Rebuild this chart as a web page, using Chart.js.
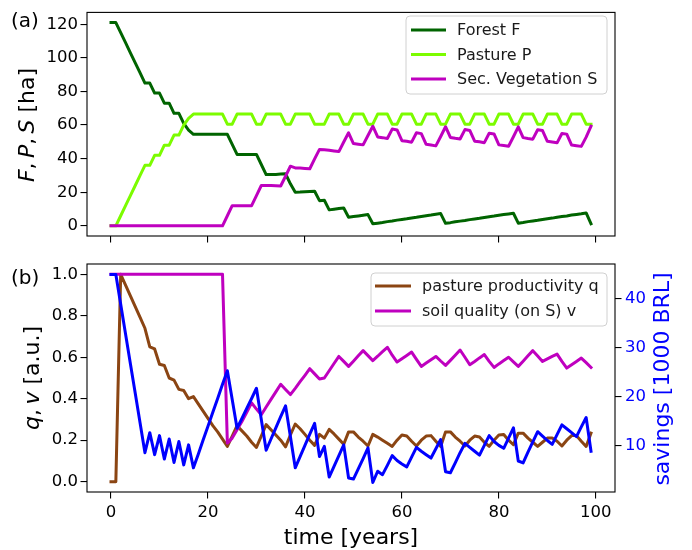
<!DOCTYPE html>
<html>
<head>
<meta charset="utf-8">
<script src="https://cdn.jsdelivr.net/npm/chart.js@4.4.0/dist/chart.umd.min.js"></script>
<style>
  html, body { margin: 0; padding: 0; background: #fff; }
  #wrap { position: relative; width: 692px; height: 550px; }
  canvas { position: absolute; left: 0; }
  #top { top: 0; }
  #bottom { top: 250px; }
</style>
</head>
<body>
<div id="wrap">
  <canvas id="top" width="692" height="250"></canvas>
  <canvas id="bottom" width="692" height="300"></canvas>
</div>
<script>
const years = [
  0, 1, 2, 3, 4, 5, 6, 7, 8, 9, 10, 11, 12, 13, 14, 15, 16, 17, 18, 19,
  20, 21, 22, 23, 24, 25, 26, 27, 28, 29, 30, 31, 32, 33, 34, 35, 36, 37, 38, 39,
  40, 41, 42, 43, 44, 45, 46, 47, 48, 49, 50, 51, 52, 53, 54, 55, 56, 57, 58, 59,
  60, 61, 62, 63, 64, 65, 66, 67, 68, 69, 70, 71, 72, 73, 74, 75, 76, 77, 78, 79,
  80, 81, 82, 83, 84, 85, 86, 87, 88, 89, 90, 91, 92, 93, 94, 95, 96, 97, 98, 99
];

// panel (a): land use [ha]
const forestF = [
  121, 121, 115, 109, 103, 97, 91, 85, 85, 79,
  79, 73, 73, 67, 67, 61, 57, 54.5, 54.5, 54.5,
  54.5, 54.5, 54.5, 54.5, 54.5, 48.5, 42.5, 42.5, 42.5, 42.5,
  42.5, 36.5, 30.5, 30.5, 30.6, 30.8, 31, 25, 20, 20.1,
  20.3, 20.5, 20.6, 15, 15.2, 9.5, 9.9, 10.3, 10.6, 5.1,
  5.5, 5.9, 6.3, 6.7, 1.2, 1.6, 2.0, 2.5, 2.9, 3.4,
  3.8, 4.2, 4.7, 5.1, 5.6, 6.0, 6.4, 6.9, 7.3, 1.5,
  1.9, 2.4, 2.8, 3.2, 3.7, 4.1, 4.5, 5.0, 5.4, 5.8,
  6.3, 6.7, 7.1, 7.5, 1.6, 2.0, 2.5, 2.9, 3.3, 3.8,
  4.2, 4.6, 5.1, 5.5, 5.9, 6.4, 6.8, 7.2, 7.7, 1.2
];
const pastureP = [
  0, 0, 6, 12, 18, 24, 30, 36, 36, 42,
  42, 48, 48, 54, 54, 60, 64, 66.5, 66.5, 66.5,
  66.5, 66.5, 66.5, 66.5, 60.5, 60.5, 66.5, 66.5, 66.5, 66.5,
  60.5, 60.5, 66.5, 66.5, 66.5, 66.5, 60.5, 60.5, 66.5, 66.5,
  66.5, 66.5, 60.5, 60.5, 60.5, 66.5, 66.5, 66.5, 60.5, 60.5,
  66.5, 66.5, 66.5, 60.5, 60.5, 66.5, 66.5, 66.5, 60.5, 60.5,
  66.5, 66.5, 66.5, 60.5, 60.5, 66.5, 66.5, 66.5, 60.5, 60.5,
  66.5, 66.5, 66.5, 60.5, 60.5, 66.5, 66.5, 66.5, 60.5, 60.5,
  66.5, 66.5, 66.5, 60.5, 60.5, 66.5, 66.5, 66.5, 60.5, 60.5,
  66.5, 66.5, 66.5, 60.5, 60.5, 66.5, 66.5, 66.5, 60.5, 60.5
];
const secVegS = [
  0, 0, 0, 0, 0, 0, 0, 0, 0, 0,
  0, 0, 0, 0, 0, 0, 0, 0, 0, 0,
  0, 0, 0, 0, 6, 12, 12, 12, 12, 12,
  18, 24, 24, 24, 23.9, 23.7, 29.5, 35.5, 34.5, 34.4,
  34.2, 34.0, 39.9, 45.5, 45.3, 45.0, 44.6, 44.2, 49.9, 55.4,
  49.0, 48.6, 48.2, 53.8, 59.3, 52.9, 52.5, 52.0, 57.6, 57.1,
  50.7, 50.3, 49.8, 55.4, 54.9, 48.5, 48.1, 47.6, 53.2, 59.0,
  52.6, 52.1, 51.7, 57.3, 56.8, 50.4, 50.0, 49.5, 55.1, 54.7,
  48.2, 47.8, 47.4, 53.0, 58.9, 52.5, 52.0, 51.6, 57.2, 56.7,
  50.3, 49.9, 49.4, 55.0, 54.6, 48.1, 47.7, 47.3, 52.8, 59.3
];

// panel (b): productivity, soil quality [a.u.] and savings [1000 BRL]
const productivityQ = [
  0, 0, 1.0, 0.948, 0.896, 0.844, 0.792, 0.74, 0.65, 0.64,
  0.566, 0.56, 0.5, 0.49, 0.445, 0.44, 0.4, 0.41, 0.375, 0.34,
  0.305, 0.27, 0.24, 0.205, 0.17, 0.22, 0.27, 0.245, 0.22, 0.19,
  0.165, 0.22, 0.275, 0.25, 0.225, 0.2, 0.168, 0.225, 0.278, 0.255,
  0.228, 0.2, 0.175, 0.228, 0.21, 0.252, 0.23, 0.205, 0.18, 0.24,
  0.24, 0.215, 0.195, 0.172, 0.228, 0.215, 0.2, 0.185, 0.17, 0.2,
  0.225, 0.22, 0.195, 0.172, 0.2, 0.22, 0.222, 0.195, 0.17, 0.24,
  0.24, 0.215, 0.195, 0.172, 0.2, 0.22, 0.215, 0.19, 0.17, 0.2,
  0.225, 0.227, 0.2, 0.178, 0.234, 0.234, 0.21, 0.19, 0.17, 0.19,
  0.21, 0.21, 0.195, 0.172, 0.2, 0.222, 0.222, 0.195, 0.17, 0.234
];
const soilV = [
  1, 1, 1, 1, 1, 1, 1, 1, 1, 1,
  1, 1, 1, 1, 1, 1, 1, 1, 1, 1,
  1, 1, 1, 1, 0.186, 0.21, 0.25, 0.29, 0.335, 0.38,
  0.35, 0.323, 0.36, 0.397, 0.433, 0.47, 0.445, 0.42, 0.45, 0.482,
  0.513, 0.545, 0.52, 0.495, 0.5, 0.535, 0.57, 0.604, 0.58, 0.556,
  0.581, 0.607, 0.632, 0.608, 0.584, 0.605, 0.627, 0.648, 0.61, 0.577,
  0.593, 0.609, 0.625, 0.59, 0.556, 0.572, 0.588, 0.604, 0.582, 0.561,
  0.585, 0.61, 0.635, 0.6, 0.564, 0.58, 0.597, 0.613, 0.58, 0.551,
  0.568, 0.584, 0.6, 0.578, 0.556, 0.581, 0.607, 0.632, 0.606, 0.58,
  0.592, 0.604, 0.615, 0.58, 0.548, 0.564, 0.58, 0.596, 0.574, 0.551
];
const savings = [
  45, 45, 38.9, 32.8, 26.7, 20.7, 14.6, 8.5, 12.6, 8.1,
  12.0, 7.2, 11.3, 6.5, 10.8, 6.0, 10.1, 5.4, 8.2, 11.1,
  13.9, 16.8, 19.6, 22.5, 25.3, 19.4, 13.5, 15.5, 17.6, 19.6,
  21.7, 15.3, 9.0, 11.3, 13.6, 15.9, 18.1, 11.8, 5.4, 7.7,
  10.0, 12.3, 14.5, 7.7, 9.8, 3.5, 5.7, 7.9, 10.1, 3.3,
  3.1, 5.2, 7.3, 9.5, 2.4, 4.7, 4.0, 5.9, 7.9, 6.9,
  6.2, 5.6, 7.6, 9.6, 8.8, 8.1, 7.4, 9.3, 11.2, 4.6,
  4.4, 6.4, 8.5, 10.4, 9.6, 8.8, 8.0, 10.0, 12.0, 10.8,
  10.0, 9.4, 11.5, 13.6, 6.8, 6.4, 8.6, 10.7, 12.8, 11.9,
  11.0, 10.2, 12.2, 14.2, 13.4, 12.6, 11.8, 13.8, 15.7, 8.8
];

// ticks
const timeTicks = [0, 20, 40, 60, 80, 100];
const haTicks = [0, 20, 40, 60, 80, 100, 120];
const qvTicks = [0, 0.2, 0.4, 0.6, 0.8, 1.0];
const qvTickLabels = ['0.0', '0.2', '0.4', '0.6', '0.8', '1.0'];
const savTicks = [10, 20, 30, 40];

const FONT = 'DejaVu Sans';
Chart.defaults.font.family = FONT;
Chart.defaults.font.size = 16.5;
Chart.defaults.color = '#000';

const xy = arr => arr.map((v, i) => ({ x: years[i], y: v }));
const fixTicks = vals => scale => { scale.ticks = vals.map(v => ({ value: v })); };

function line(label, arr, color, order, axis) {
  return {
    label: label, data: xy(arr), borderColor: color, backgroundColor: color,
    borderWidth: 3, pointRadius: 0, tension: 0, fill: false, order: order,
    borderJoinStyle: 'round', borderCapStyle: 'square', yAxisID: axis || 'y'
  };
}

function axisStyle() {
  return {
    grid: { display: true, drawOnChartArea: false, drawTicks: true, tickLength: 6.5, color: '#000', lineWidth: 1.1 },
    border: { display: false }
  };
}

function rotText(ctx, parts, bx, cy, size, color) {
  ctx.save();
  ctx.translate(bx, cy);
  ctx.rotate(-Math.PI / 2);
  ctx.fillStyle = color;
  ctx.textBaseline = 'alphabetic';
  ctx.textAlign = 'left';
  let total = 0;
  parts.forEach(p => {
    ctx.font = (p.it ? 'italic ' : '') + size + 'px "' + FONT + '"';
    p.w = ctx.measureText(p.t).width;
    total += p.w;
  });
  let x = -total / 2;
  parts.forEach(p => {
    ctx.font = (p.it ? 'italic ' : '') + size + 'px "' + FONT + '"';
    ctx.fillText(p.t, x, 0);
    x += p.w;
  });
  ctx.restore();
}

function legendBox(ctx, x0, y0, w, h, rows, hx, tx, rowY) {
  ctx.save();
  ctx.beginPath();
  ctx.roundRect(x0, y0, w, h, 4);
  ctx.fillStyle = 'rgba(255,255,255,0.8)';
  ctx.fill();
  ctx.strokeStyle = '#d0d0d0';
  ctx.lineWidth = 1;
  ctx.stroke();
  ctx.font = '16px "' + FONT + '"';
  ctx.textBaseline = 'middle';
  ctx.textAlign = 'left';
  rows.forEach((r, i) => {
    const y = rowY[i];
    ctx.beginPath();
    ctx.moveTo(hx[0], y);
    ctx.lineTo(hx[1], y);
    ctx.strokeStyle = r.color;
    ctx.lineWidth = 3;
    ctx.stroke();
    ctx.fillStyle = '#1a1a1a';
    ctx.fillText(r.text, tx, y + 1);
  });
  ctx.restore();
}

function frame(ctx, ca) {
  ctx.save();
  ctx.strokeStyle = '#000';
  ctx.lineWidth = 1.1;
  ctx.strokeRect(ca.left, ca.top, ca.right - ca.left, ca.bottom - ca.top);
  ctx.restore();
}

const topDecor = {
  id: 'topDecor',
  afterDraw(chart) {
    const ctx = chart.ctx, ca = chart.chartArea;
    frame(ctx, ca);
    ctx.save();
    ctx.font = '20px "' + FONT + '"';
    ctx.fillStyle = '#000';
    ctx.textBaseline = 'alphabetic';
    ctx.fillText('(a)', 11, 27);
    ctx.restore();
    rotText(ctx, [{ t: 'F', it: true }, { t: ',\u2009' }, { t: 'P', it: true }, { t: ',\u2009' }, { t: 'S', it: true }, { t: ' [ha]' }],
      34, 125, 22, '#000');
    legendBox(ctx, 406, 16, 201, 78,
      [{ text: 'Forest F', color: '#006400' }, { text: 'Pasture P', color: '#7CFC00' }, { text: 'Sec. Vegetation S', color: '#BF00BF' }],
      [411, 446], 457, [30, 54.5, 79]);
  }
};

const bottomDecor = {
  id: 'bottomDecor',
  afterDraw(chart) {
    const ctx = chart.ctx, ca = chart.chartArea;
    frame(ctx, ca);
    ctx.save();
    ctx.font = '20px "' + FONT + '"';
    ctx.fillStyle = '#000';
    ctx.textBaseline = 'alphabetic';
    ctx.fillText('(b)', 11, 34);
    ctx.font = '22px "' + FONT + '"';
    ctx.textAlign = 'center';
    ctx.fillText('time [years]', (ca.left + ca.right) / 2, 293.5);
    ctx.restore();
    rotText(ctx, [{ t: 'q', it: true }, { t: ',\u2009' }, { t: 'v', it: true }, { t: ' [a.u.]' }], 39, 128, 22, '#000');
    rotText(ctx, [{ t: 'savings [1000 BRL]' }], 668.5, 129, 22, '#0000FF');
    legendBox(ctx, 371, 23, 236, 53,
      [{ text: 'pasture productivity q', color: '#8B4513' }, { text: 'soil quality (on S) v', color: '#BF00BF' }],
      [375, 411], 422, [36, 61]);
  }
};

const common = {
  responsive: false,
  animation: false,
  events: [],
  plugins: { legend: { display: false }, tooltip: { enabled: false } }
};

new Chart(document.getElementById('top'), {
  type: 'line',
  data: {
    datasets: [
      line('Forest F', forestF, '#006400', 2),
      line('Pasture P', pastureP, '#7CFC00', 1),
      line('Sec. Vegetation S', secVegS, '#BF00BF', 0)
    ]
  },
  options: Object.assign({}, common, {
    layout: { padding: { top: 8, right: 77, left: 0, bottom: 0 } },
    scales: {
      x: Object.assign(axisStyle(), {
        type: 'linear', min: -4.95, max: 103.95,
        afterBuildTicks: fixTicks(timeTicks),
        afterFit: s => { s.height = 14; },
        ticks: { autoSkip: false, maxRotation: 0, callback: () => '' }
      }),
      y: Object.assign(axisStyle(), {
        type: 'linear', min: -6.05, max: 127.05,
        afterBuildTicks: fixTicks(haTicks),
        afterFit: s => { s.width = 87; },
        ticks: { padding: 2.5, autoSkip: false, callback: v => String(v) }
      })
    }
  }),
  plugins: [topDecor]
});

new Chart(document.getElementById('bottom'), {
  type: 'line',
  data: {
    datasets: [
      line('pasture productivity q', productivityQ, '#8B4513', 2),
      line('soil quality (on S) v', soilV, '#BF00BF', 1),
      line('savings', savings, '#0000FF', 0, 'y1')
    ]
  },
  options: Object.assign({}, common, {
    layout: { padding: { top: 14, right: 0, left: 0, bottom: 0 } },
    scales: {
      x: Object.assign(axisStyle(), {
        type: 'linear', min: -4.95, max: 103.95,
        afterBuildTicks: fixTicks(timeTicks),
        afterFit: s => { s.height = 58; },
        ticks: { padding: 4, autoSkip: false, maxRotation: 0, callback: v => String(v) }
      }),
      y: Object.assign(axisStyle(), {
        type: 'linear', position: 'left', min: -0.05, max: 1.05,
        afterBuildTicks: fixTicks(qvTicks),
        afterFit: s => { s.width = 87; },
        ticks: { padding: 2.5, autoSkip: false, callback: (v, i) => qvTickLabels[i] }
      }),
      y1: Object.assign(axisStyle(), {
        type: 'linear', position: 'right', min: 0.45, max: 47.15,
        afterBuildTicks: fixTicks(savTicks),
        afterFit: s => { s.width = 77; },
        ticks: { padding: 3.5, autoSkip: false, color: '#0000FF', callback: v => String(v) }
      })
    }
  }),
  plugins: [bottomDecor]
});
</script>
</body>
</html>
